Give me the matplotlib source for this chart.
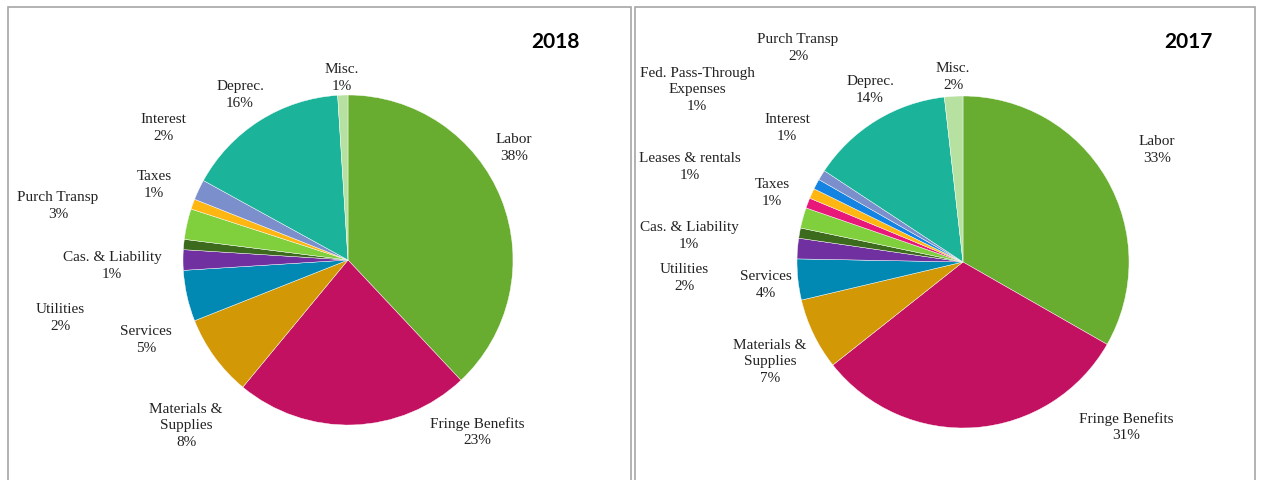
import matplotlib.pyplot as plt
from matplotlib.patches import Rectangle

# 2018 shares (clockwise from top)
cats_2018 = ["Labor", "Fringe Benefits", "Materials &\nSupplies", "Services", "Utilities",
             "Cas. & Liability", "Purch Transp", "Taxes", "Interest", "Deprec.", "Misc."]
vals_2018 = [38, 23, 8, 5, 2, 1, 3, 1, 2, 16, 1]
cols_2018 = ["#69ad30", "#c31162", "#d39806", "#0189b4", "#7030a0",
             "#3d6b1d", "#80cf3d", "#ffb612", "#7b8fcc", "#1bb39a", "#b7e1a1"]

# 2017 shares (clockwise from top)
cats_2017 = ["Labor", "Fringe Benefits", "Materials &\nSupplies", "Services", "Utilities",
             "Cas. & Liability", "Purch Transp", "Leases & rentals", "Taxes",
             "Fed. Pass-Through\nExpenses", "Interest", "Deprec.", "Misc."]
vals_2017 = [33.4, 31.2, 7, 4, 2, 1, 2, 1, 1, 1, 1, 14, 1.8]
cols_2017 = ["#69ad30", "#c31162", "#d39806", "#0189b4", "#7030a0",
             "#3d6b1d", "#80cf3d", "#e8187a", "#ffb612", "#1583e2", "#7b8fcc", "#1bb39a", "#b7e1a1"]

W, H = 1262, 481
fig = plt.figure(figsize=(W / 100, H / 100), dpi=100)
ax = fig.add_axes([0, 0, 1, 1])

def py(y):
    return H - y

ax.pie(vals_2018, colors=cols_2018, startangle=90, counterclock=False,
       center=(348, py(261)), radius=165, frame=True,
       wedgeprops=dict(edgecolor="white", linewidth=0.3))
ax.pie(vals_2017, colors=cols_2017, startangle=90, counterclock=False,
       center=(963, py(263)), radius=166, frame=True,
       wedgeprops=dict(edgecolor="white", linewidth=0.3))

# label positions in pixel coords of the image
pos_2018 = [(514, 148), (477, 432), (186, 426), (146, 340), (60, 318), (112, 266),
            (58, 206), (154, 185), (163, 128), (240, 95), (342, 78)]
pos_2017 = [(1157, 150), (1126, 427), (770, 362), (766, 285), (684, 278), (689, 236),
            (798, 48), (690, 167), (772, 193), (697, 90), (787, 128), (870, 90), (953, 77)]

labels = [(cats_2018, vals_2018, pos_2018), (cats_2017, vals_2017, pos_2017)]
for cats, vals, pos in labels:
    for c, v, (x, y) in zip(cats, vals, pos):
        ax.text(x, py(y), f"{c}\n{round(v)}%", ha="center", va="center", fontsize=11,
                family="Liberation Serif", linespacing=1.35, color="#222222")

ax.text(555, py(42), "2018", ha="center", va="center", fontsize=15,
        fontweight="bold", family="Lato")
ax.text(1188, py(42), "2017", ha="center", va="center", fontsize=15,
        fontweight="bold", family="Lato")

# panel frames
ax.add_patch(Rectangle((7.5, -5), 623, py(8) + 5, fill=False, edgecolor="#a6a6a6", linewidth=1.2))
ax.add_patch(Rectangle((635, -5), 620, py(8) + 5, fill=False, edgecolor="#a6a6a6", linewidth=1.2))

ax.set_xlim(0, W)
ax.set_ylim(0, H)
ax.axis("off")

fig.savefig("out.png", dpi=100)
